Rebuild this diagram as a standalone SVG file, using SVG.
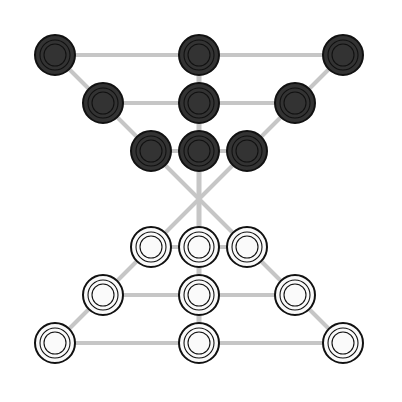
<svg xmlns="http://www.w3.org/2000/svg" width="402" height="402" viewBox="0 0 402 402">
<style>
.ln{stroke:#c6c6c6;stroke-width:4;fill:none;stroke-linecap:butt}
.b .o{fill:#333;stroke:#111;stroke-width:2}
.w .o{fill:#fafafa;stroke:#111;stroke-width:2}
.r{fill:none;stroke:#111;stroke-width:1.1}
</style>
<rect width="402" height="402" fill="#fff"/>
<g id="connectors">
<line class="ln" x1="55" y1="55" x2="343" y2="55"/>
<line class="ln" x1="103" y1="103" x2="295" y2="103"/>
<line class="ln" x1="151" y1="151" x2="247" y2="151"/>
<line class="ln" x1="151" y1="247" x2="247" y2="247"/>
<line class="ln" x1="103" y1="295" x2="295" y2="295"/>
<line class="ln" x1="55" y1="343" x2="343" y2="343"/>
<line class="ln" x1="199" y1="55" x2="199" y2="343" style="stroke-width:5"/>
<line class="ln" x1="55" y1="55" x2="343" y2="343"/>
<line class="ln" x1="343" y1="55" x2="55" y2="343"/>
</g>
<g id="b1" class="b" transform="translate(55,55)"><circle class="o" r="20"/><circle class="r" r="15"/><circle class="r" r="11"/></g>
<g id="b2" class="b" transform="translate(199,55)"><circle class="o" r="20"/><circle class="r" r="15"/><circle class="r" r="11"/></g>
<g id="b3" class="b" transform="translate(343,55)"><circle class="o" r="20"/><circle class="r" r="15"/><circle class="r" r="11"/></g>
<g id="b4" class="b" transform="translate(103,103)"><circle class="o" r="20"/><circle class="r" r="15"/><circle class="r" r="11"/></g>
<g id="b5" class="b" transform="translate(199,103)"><circle class="o" r="20"/><circle class="r" r="15"/><circle class="r" r="11"/></g>
<g id="b6" class="b" transform="translate(295,103)"><circle class="o" r="20"/><circle class="r" r="15"/><circle class="r" r="11"/></g>
<g id="b7" class="b" transform="translate(151,151)"><circle class="o" r="20"/><circle class="r" r="15"/><circle class="r" r="11"/></g>
<g id="b8" class="b" transform="translate(199,151)"><circle class="o" r="20"/><circle class="r" r="15"/><circle class="r" r="11"/></g>
<g id="b9" class="b" transform="translate(247,151)"><circle class="o" r="20"/><circle class="r" r="15"/><circle class="r" r="11"/></g>
<g id="w1" class="w" transform="translate(151,247)"><circle class="o" r="20"/><circle class="r" r="15"/><circle class="r" r="11"/></g>
<g id="w2" class="w" transform="translate(199,247)"><circle class="o" r="20"/><circle class="r" r="15"/><circle class="r" r="11"/></g>
<g id="w3" class="w" transform="translate(247,247)"><circle class="o" r="20"/><circle class="r" r="15"/><circle class="r" r="11"/></g>
<g id="w4" class="w" transform="translate(103,295)"><circle class="o" r="20"/><circle class="r" r="15"/><circle class="r" r="11"/></g>
<g id="w5" class="w" transform="translate(199,295)"><circle class="o" r="20"/><circle class="r" r="15"/><circle class="r" r="11"/></g>
<g id="w6" class="w" transform="translate(295,295)"><circle class="o" r="20"/><circle class="r" r="15"/><circle class="r" r="11"/></g>
<g id="w7" class="w" transform="translate(55,343)"><circle class="o" r="20"/><circle class="r" r="15"/><circle class="r" r="11"/></g>
<g id="w8" class="w" transform="translate(199,343)"><circle class="o" r="20"/><circle class="r" r="15"/><circle class="r" r="11"/></g>
<g id="w9" class="w" transform="translate(343,343)"><circle class="o" r="20"/><circle class="r" r="15"/><circle class="r" r="11"/></g>
</svg>
